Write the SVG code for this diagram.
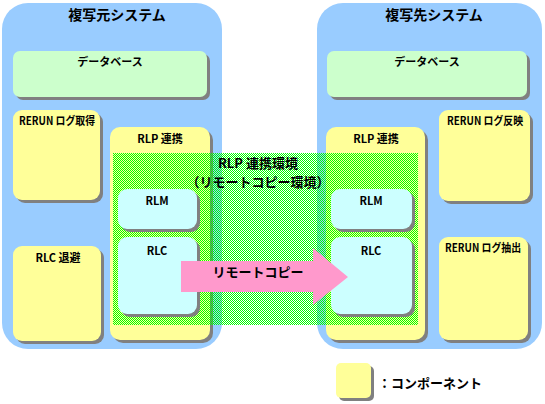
<svg xmlns="http://www.w3.org/2000/svg" width="545" height="404" viewBox="0 0 545 404">
<defs>
<pattern id="chk" patternUnits="userSpaceOnUse" width="2" height="2">
<rect x="0" y="0" width="1" height="1" fill="#00FF00"/>
<rect x="1" y="1" width="1" height="1" fill="#00FF00"/>
</pattern>
</defs>
<style>
.sys{fill:#99CCFF}
.sh{fill:#808080}
.db{fill:#CCFFCC}
.comp{fill:#FFFF99}
.sub{fill:#CCFFFF}
text{font-family:"Noto Sans CJK JP","Liberation Sans",sans-serif;font-weight:bold;fill:#000;text-anchor:middle}
.t{font-size:14px}
.l{font-size:11px}
.e{font-size:13px}
</style>
<g id="sys-src">
<rect class="sys" x="2" y="3" width="220" height="346" rx="26"/>
<text class="t" x="117" y="20">複写元システム</text>
</g>
<g id="sys-dst">
<rect class="sys" x="317" y="3" width="225" height="346" rx="26"/>
<text class="t" x="434" y="20">複写先システム</text>
</g>
<g id="db-src">
<rect class="sh" x="16" y="54" width="194" height="46" rx="7"/>
<rect class="db" x="13" y="51" width="194" height="46" rx="7"/>
<text class="l" x="110" y="66">データベース</text>
</g>
<g id="db-dst">
<rect class="sh" x="330" y="54" width="200" height="46" rx="7"/>
<rect class="db" x="327" y="51" width="200" height="46" rx="7"/>
<text class="l" x="427" y="66">データベース</text>
</g>
<g id="rerun-get">
<rect class="sh" x="16" y="113" width="87" height="90" rx="9"/>
<rect class="comp" x="13" y="110" width="87" height="90" rx="9"/>
<text class="l" x="57" y="125" textLength="76" lengthAdjust="spacingAndGlyphs">RERUN ログ取得</text>
</g>
<g id="rlc-save">
<rect class="sh" x="16" y="249" width="88" height="95" rx="9"/>
<rect class="comp" x="13" y="246" width="88" height="95" rx="9"/>
<text class="l" x="58" y="262">RLC 退避</text>
</g>
<g id="rlp-src">
<rect class="sh" x="113" y="130" width="100" height="213" rx="10"/>
<rect class="comp" x="110" y="127" width="100" height="213" rx="10"/>
<text class="l" x="160" y="143">RLP 連携</text>
</g>
<g id="rlp-dst">
<rect class="sh" x="329" y="130" width="99" height="213" rx="10"/>
<rect class="comp" x="326" y="127" width="99" height="213" rx="10"/>
<text class="l" x="376" y="143">RLP 連携</text>
</g>
<g id="rerun-apply">
<rect class="sh" x="442" y="113" width="91" height="91" rx="9"/>
<rect class="comp" x="439" y="110" width="91" height="91" rx="9"/>
<text class="l" x="485" y="125" textLength="76" lengthAdjust="spacingAndGlyphs">RERUN ログ反映</text>
</g>
<g id="rerun-extract">
<rect class="sh" x="442" y="240" width="89" height="103" rx="9"/>
<rect class="comp" x="439" y="237" width="89" height="103" rx="9"/>
<text class="l" x="483" y="252" textLength="76" lengthAdjust="spacingAndGlyphs">RERUN ログ抽出</text>
</g>
<g id="env">
<rect x="113" y="153" width="305" height="172" fill="url(#chk)"/>
<text class="e" x="258" y="168">RLP 連携環境</text>
<text class="e" x="258" y="187">（リモートコピー環境）</text>
</g>
<g id="rlm-src">
<rect class="sh" x="121" y="192" width="79" height="40" rx="9"/>
<rect class="sub" x="118" y="189" width="79" height="40" rx="9"/>
<text class="l" x="157" y="205">RLM</text>
</g>
<g id="rlc-src">
<rect class="sh" x="121" y="240" width="79" height="77" rx="9"/>
<rect class="sub" x="118" y="237" width="79" height="77" rx="9"/>
<text class="l" x="157" y="255">RLC</text>
</g>
<g id="rlm-dst">
<rect class="sh" x="334" y="192" width="81" height="40" rx="9"/>
<rect class="sub" x="331" y="189" width="81" height="40" rx="9"/>
<text class="l" x="371" y="205">RLM</text>
</g>
<g id="rlc-dst">
<rect class="sh" x="334" y="240" width="81" height="77" rx="9"/>
<rect class="sub" x="331" y="237" width="81" height="77" rx="9"/>
<text class="l" x="371" y="255">RLC</text>
</g>
<g id="connectors">
<polygon points="181,261 313,261 313,248 348,277 313,305 313,292 181,292" fill="#FF99CC"/>
<text class="e" x="258" y="277">リモートコピー</text>
</g>
<g id="legend">
<rect class="sh" x="339" y="366" width="35" height="35" rx="5"/>
<rect class="comp" x="336" y="363" width="35" height="35" rx="5"/>
<text class="e" x="430" y="388">：コンポーネント</text>
</g>
</svg>
